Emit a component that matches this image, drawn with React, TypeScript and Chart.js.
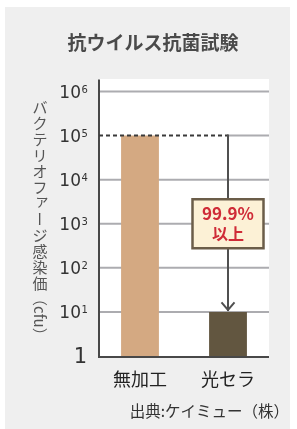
import React, { useEffect, useRef } from "react";
import { Chart, registerables } from "chart.js";

Chart.register(...registerables);

// ---- data ----
const categories = ["無加工", "光セラ"];
const values = [100000, 10];
const barColors = ["#d4a982", "#625640"];
const yTickValues = [1, 10, 100, 1000, 10000, 100000, 1000000];
const yTickBases = ["1", "10", "10", "10", "10", "10", "10"];
const yTickExps = ["", "1", "2", "3", "4", "5", "6"];
const chartTitle = "抗ウイルス抗菌試験";
const yTitleMain = "バクテリオファージ感染価";
const yTitleUnit = "（cfu）";
const reductionLines = ["99.9%", "以上"];
const referenceValue = 100000;
const calloutValue = 1000;
const sourceText = "出典:ケイミュー（株）";

const CJK = '"Noto Sans CJK JP", "Noto Sans", sans-serif';
const NUM = '"DejaVu Sans", sans-serif';

const decor = {
  id: "decor",
  beforeDraw(chart: any) {
    const { ctx, chartArea: ca, scales } = chart;
    const y = scales.y;
    const L = ca.left + 3;
    const R = ca.right - 3;
    const arrowX = chart.getDatasetMeta(0).data[1].x;
    ctx.save();
    ctx.fillStyle = "#ffffff";
    ctx.fillRect(0, 0, chart.width, chart.height);
    ctx.fillStyle = "#efefef";
    ctx.fillRect(5, 7, 285, 422);
    ctx.fillStyle = "#ffffff";
    ctx.fillRect(L, ca.top - 12.5, R - L, ca.bottom - ca.top + 12.5);
    // grid lines
    ctx.strokeStyle = "#acacb0";
    ctx.lineWidth = 2;
    yTickValues.forEach((v, i) => {
      if (i === 0) return;
      const py = y.getPixelForValue(v);
      const x0 = v === referenceValue ? arrowX : L;
      ctx.beginPath();
      ctx.moveTo(x0, py);
      ctx.lineTo(R, py);
      ctx.stroke();
    });
    // title
    ctx.fillStyle = "#4a4a4a";
    ctx.font = `bold 19px ${CJK}`;
    ctx.textAlign = "center";
    ctx.textBaseline = "middle";
    ctx.fillText(chartTitle, 153, 43);
    // y tick labels
    ctx.fillStyle = "#333333";
    yTickValues.forEach((v, i) => {
      const py = y.getPixelForValue(v);
      ctx.textBaseline = "alphabetic";
      if (yTickExps[i] === "") {
        ctx.font = `21px ${NUM}`;
        ctx.textAlign = "right";
        ctx.fillText(yTickBases[i], L - 12, py + 7);
      } else {
        ctx.font = `17px ${NUM}`;
        ctx.textAlign = "right";
        ctx.fillText(yTickBases[i], L - 18, py + 6);
        ctx.font = `10px ${NUM}`;
        ctx.textAlign = "left";
        ctx.fillText(yTickExps[i], L - 17.5, py + 1);
      }
    });
    // y title (vertical)
    ctx.fillStyle = "#555555";
    ctx.font = `15px ${CJK}`;
    ctx.textAlign = "center";
    ctx.textBaseline = "middle";
    const tx = 40;
    const ty = 99;
    const chars = Array.from(yTitleMain);
    chars.forEach((c, i) => {
      const cy = ty + 8 + i * 16;
      if (c === "ー") {
        ctx.save();
        ctx.translate(tx, cy);
        ctx.rotate(Math.PI / 2);
        ctx.fillText(c, 0, 0);
        ctx.restore();
      } else if ("ァィゥェォャュョッ".includes(c)) {
        ctx.fillText(c, tx + 2, cy - 3);
      } else {
        ctx.fillText(c, tx, cy);
      }
    });
    ctx.save();
    ctx.translate(tx, ty + chars.length * 16);
    ctx.rotate(Math.PI / 2);
    ctx.textAlign = "left";
    ctx.fillText(yTitleUnit, 0, 0);
    ctx.restore();
    // x labels
    const meta = chart.getDatasetMeta(0);
    ctx.fillStyle = "#222222";
    ctx.font = `18px ${CJK}`;
    ctx.textAlign = "center";
    ctx.textBaseline = "middle";
    categories.forEach((c, i) => {
      ctx.fillText(c, meta.data[i].x, ca.bottom + 23);
    });
    // source
    ctx.fillStyle = "#333333";
    ctx.font = `15.5px ${CJK}`;
    ctx.textAlign = "right";
    ctx.fillText(sourceText, 289, 411);
    ctx.restore();
  },
  afterDatasetsDraw(chart: any) {
    const { ctx, chartArea: ca, scales } = chart;
    const y = scales.y;
    const L = ca.left + 3;
    const R = ca.right - 3;
    const meta = chart.getDatasetMeta(0);
    const arrowX = meta.data[1].x;
    const refY = y.getPixelForValue(referenceValue);
    const tipY = y.getPixelForValue(values[1]);
    ctx.save();
    // axes
    ctx.strokeStyle = "#484848";
    ctx.lineWidth = 2;
    ctx.beginPath();
    ctx.moveTo(L, ca.top - 12);
    ctx.lineTo(L, ca.bottom + 1);
    ctx.lineTo(R, ca.bottom + 1);
    ctx.stroke();
    // dashed reference
    ctx.strokeStyle = "#3a3a3a";
    ctx.setLineDash([4, 3]);
    ctx.beginPath();
    ctx.moveTo(L, refY);
    ctx.lineTo(arrowX, refY);
    ctx.stroke();
    ctx.setLineDash([]);
    // arrow
    ctx.strokeStyle = "#505050";
    ctx.beginPath();
    ctx.moveTo(arrowX, refY - 1);
    ctx.lineTo(arrowX, tipY - 1);
    ctx.stroke();
    ctx.beginPath();
    ctx.moveTo(arrowX - 6.5, tipY - 9.5);
    ctx.lineTo(arrowX, tipY - 2);
    ctx.lineTo(arrowX + 6.5, tipY - 9.5);
    ctx.stroke();
    // callout box
    const cy = y.getPixelForValue(calloutValue);
    const bw = 71;
    const bh = 49;
    ctx.fillStyle = "#fcf1d6";
    ctx.fillRect(arrowX - bw / 2, cy - bh / 2, bw, bh);
    ctx.strokeStyle = "#6b5d49";
    ctx.lineWidth = 2.5;
    ctx.strokeRect(arrowX - bw / 2, cy - bh / 2, bw, bh);
    ctx.fillStyle = "#cf2b37";
    ctx.textAlign = "center";
    ctx.textBaseline = "middle";
    ctx.font = `bold 17px ${CJK}`;
    ctx.fillText(reductionLines[0], arrowX, cy - 10);
    ctx.font = `bold 16px ${CJK}`;
    ctx.fillText(reductionLines[1], arrowX, cy + 10);
    ctx.restore();
  },
};

export default function App() {
  const ref = useRef<HTMLCanvasElement>(null);
  useEffect(() => {
    if (!ref.current) return;
    const chart = new Chart(ref.current, {
      type: "bar",
      data: {
        labels: categories,
        datasets: [
          {
            data: values,
            backgroundColor: barColors,
            borderWidth: 0,
            barPercentage: 0.43,
            categoryPercentage: 1,
          },
        ],
      },
      options: {
        responsive: false,
        animation: false,
        devicePixelRatio: 1,
        layout: { padding: { left: 96, right: 25, top: 91.5, bottom: 73 } },
        scales: {
          x: { type: "category", display: false, offset: true },
          y: { type: "logarithmic", display: false, min: 1, max: 1000000 },
        },
        plugins: {
          legend: { display: false },
          tooltip: { enabled: false },
          title: { display: false },
        },
      },
      plugins: [decor],
    } as any);
    return () => chart.destroy();
  }, []);
  return (
    <div style={{ position: "absolute", left: 0, top: 0, width: 297, height: 429 }}>
      <canvas ref={ref} width={297} height={429} style={{ display: "block" }} />
    </div>
  );
}
